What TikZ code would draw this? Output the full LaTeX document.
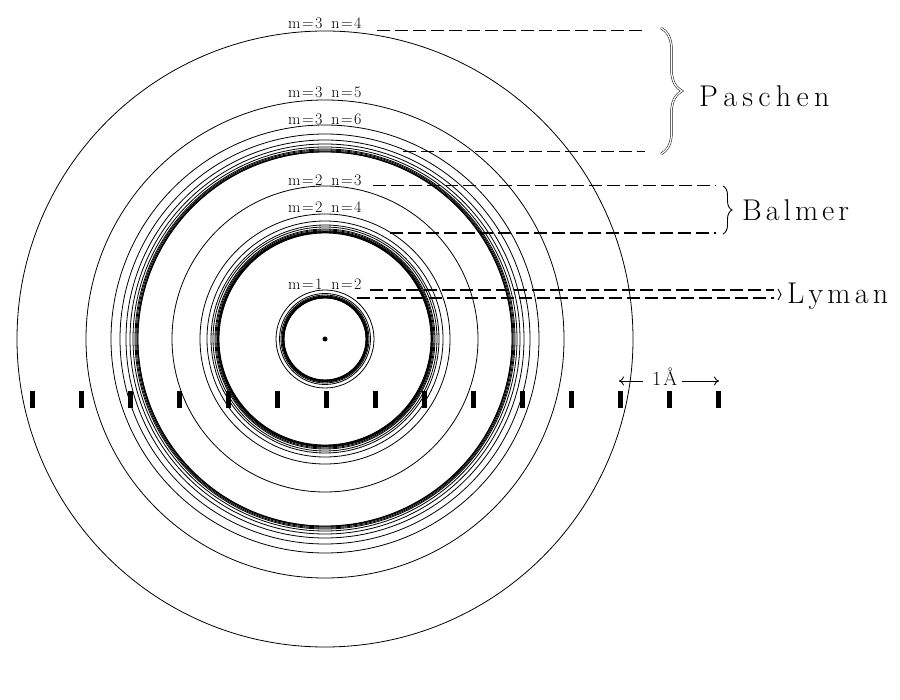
\documentclass[tikz,border=0pt]{standalone}
\usepackage{fontspec}
\usetikzlibrary{decorations.pathreplacing,arrows.meta}
\newcommand{\mnlabel}[2]{m\kern1.5pt=\kern1.5pt#1\kern9pt n\kern1.5pt=\kern1.5pt#2}
\begin{document}
\begin{tikzpicture}[x=1pt,y=-1pt,
  orbit/.style={line width=0.8pt},
  lbl/.style={font=\fontsize{16}{16}\selectfont, inner sep=0pt, anchor=base west},
  series/.style={font=\fontsize{30}{30}\selectfont, inner sep=0pt, anchor=base west},
  dthin/.style={line width=1pt, dash pattern=on 13pt off 5pt},
  dthick/.style={line width=2pt, dash pattern=on 13pt off 5pt},
  tickmark/.style={fill=black}]
\useasboundingbox[fill=white] (0,0) rectangle (900,700);
\coordinate (O) at (325,339);
% Paschen orbits
\foreach \r in {308,239,214,205,199,195,192,190,189,188,187.3,187}
  \draw[orbit] (O) circle[radius=\r pt];
% Balmer orbits
\foreach \r in {153,125,118,114,112,110,109,108,107.4,107,106.5,106}
  \draw[orbit] (O) circle[radius=\r pt];
% Lyman orbits
\foreach \r in {49,45.5,44,43,42.5,42,41.7,41.4,41.2,41}
  \draw[orbit] (O) circle[radius=\r pt];
\fill (O) circle[radius=2.5pt];
% labels
\node[lbl] (l34) at (288,29) {\mnlabel{3}{4}};
\node[lbl] (l35) at (288,98) {\mnlabel{3}{5}};
\node[lbl] (l36) at (288,125) {\mnlabel{3}{6}};
\node[lbl] (l23) at (288,186) {\mnlabel{2}{3}};
\node[lbl] (l24) at (288,213) {\mnlabel{2}{4}};
\node[lbl] (l12) at (288,290) {\mnlabel{1}{2}};
% dashed level lines
\coordinate (p1a) at (377,31);  \coordinate (p1b) at (645,31);
\coordinate (p2a) at (403,152); \coordinate (p2b) at (645,152);
\coordinate (b1a) at (373,186); \coordinate (b1b) at (716,186);
\coordinate (b2a) at (390,233); \coordinate (b2b) at (716,233);
\coordinate (y1a) at (370,290); \coordinate (y1b) at (774,290);
\coordinate (y2a) at (357,298); \coordinate (y2b) at (774,298);
\draw[dthin] (p1a) -- (p1b);
\draw[dthin] (p2a) -- (p2b);
\draw[dthin] (b1a) -- (b1b);
\draw[dthick] (b2a) -- (b2b);
\draw[dthick] (y1a) -- (y1b);
\draw[dthick] (y2a) -- (y2b);
% braces
\draw[decorate, decoration={brace, amplitude=21pt}, line width=0.5pt, double, double distance=1.3pt] (661,28) -- (661,154);
\draw[decorate, decoration={brace, amplitude=9pt}, line width=0.9pt] (723,186) -- (723,234);
\draw[decorate, decoration={brace, amplitude=3pt}, line width=0.9pt] (778,289) -- (778,300);
% series names
\node[series] (pas) at (699,107) {P\kern5.3pt a\kern5.3pt s\kern5.3pt c\kern5.3pt h\kern5.3pt e\kern5.3pt n};
\node[series] (bal) at (742,221) {B\kern4pt a\kern4pt l\kern4pt m\kern4pt e\kern4pt r};
\node[series] (lym) at (787,304) {L\kern4.2pt y\kern4.2pt m\kern4.2pt a\kern4.2pt n};
% scale ticks
\foreach \i in {0,...,14}
  \fill[tickmark] ({32+49*\i-2.5},391) rectangle ++(5,17);
% 1 Angstrom label
\node[font=\fontsize{20}{20}\selectfont, inner sep=0pt, anchor=base west] (ang) at (652,386) {1\kern2pt Å};
\coordinate (al) at (619,381); \coordinate (ar) at (719,381);
\draw[line width=0.9pt, -{To[length=5pt,width=9pt]}] (ang.west |- al) ++(-9,0) -- (al);
\draw[line width=0.9pt, -{To[length=5pt,width=9pt]}] (ang.east |- ar) ++(5,0) -- (ar);
\end{tikzpicture}
\end{document}
